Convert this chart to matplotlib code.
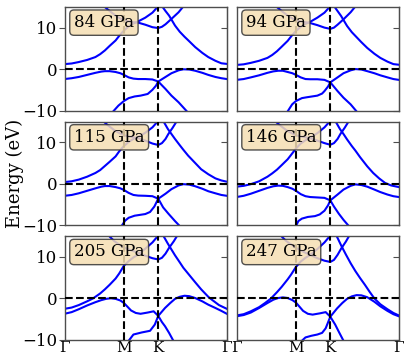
import numpy as np
import matplotlib
matplotlib.use("Agg")
import matplotlib.pyplot as plt

plt.rcParams["font.family"] = "serif"
plt.rcParams["font.serif"] = ["DejaVu Serif"]

# High-symmetry path Gamma-M-K-Gamma (path length units)
kpath_ticks = [0.0, 0.5, 0.789, 1.366]
kpath_labels = ["Γ", "M", "K", "Γ"]
pressures = [84, 94, 115, 146, 205, 247]

# Bands: (k, E) pairs, E in eV
c1_84 = [(0, 1.2), (.06, 1.35), (.12, 1.7), (.19, 2.2), (.26, 2.9), (.30, 3.6), (.34, 4.5), (.38, 5.6), (.43, 6.9), (.46, 8.0), (.5, 9.3), (.54, 10.3), (.58, 11.0), (.62, 11.5), (.68, 12.4), (.74, 13.6), (.79, 15.2)]
c2_84 = [(.33, 15.2), (.38, 14.0), (.43, 12.9), (.47, 12.2), (.5, 11.8), (.54, 11.5), (.58, 11.3), (.62, 11.2), (.68, 10.7), (.74, 10.1), (.789, 9.9), (.82, 10.2), (.85, 10.8), (.9, 12.1), (.96, 13.7), (1.0, 15.1)]
c3_84 = [(.82, 15.2), (.85, 14.0), (.88, 12.9), (.93, 10.5), (.97, 9.0), (1.01, 7.8), (1.05, 6.7), (1.1, 5.3), (1.16, 3.9), (1.21, 2.9), (1.27, 2.0), (1.32, 1.4), (1.366, 1.25)]
v1_84 = [(0, -2.4), (.06, -2.2), (.12, -1.9), (.19, -1.4), (.26, -0.9), (.31, -0.6), (.34, -0.5), (.38, -0.5), (.43, -0.7), (.47, -1.0), (.5, -1.4), (.54, -2.0), (.58, -2.3), (.62, -2.4), (.68, -2.4), (.74, -2.5), (.789, -3.0), (.85, -1.9), (.9, -1.0), (.96, -0.3), (1.0, -0.05), (1.05, -0.1), (1.1, -0.4), (1.16, -0.9), (1.21, -1.4), (1.27, -1.9), (1.32, -2.2), (1.366, -2.4)]
v2_84 = [(.41, -10.2), (.454, -8.8), (.5, -7.7), (.54, -7.0), (.59, -6.6), (.64, -6.4), (.7, -6.0), (.74, -5.0), (.77, -4.0), (.789, -3.0), (.85, -4.8), (.9, -6.4), (.96, -8.0), (1.03, -10.2)]

c1_94 = [(0, 1.0), (.06, 1.15), (.12, 1.5), (.19, 2.0), (.26, 2.7), (.30, 3.4), (.34, 4.3), (.38, 5.4), (.43, 6.8), (.46, 7.9), (.5, 9.2), (.54, 10.2), (.58, 10.9), (.62, 11.4), (.68, 12.4), (.74, 13.6), (.79, 15.2)]
c2_94 = [(.33, 15.2), (.38, 14.0), (.43, 12.9), (.47, 12.2), (.5, 11.8), (.54, 11.5), (.58, 11.3), (.62, 11.1), (.68, 10.6), (.74, 10.0), (.789, 9.7), (.82, 10.0), (.85, 10.7), (.9, 12.0), (.96, 13.7), (1.0, 15.1)]
c3_94 = [(.82, 15.2), (.85, 14.0), (.88, 12.8), (.93, 10.4), (.97, 8.9), (1.01, 7.7), (1.05, 6.5), (1.1, 5.1), (1.16, 3.7), (1.21, 2.7), (1.27, 1.8), (1.32, 1.2), (1.366, 1.05)]
v1_94 = [(0, -2.6), (.06, -2.4), (.12, -2.0), (.19, -1.5), (.26, -0.9), (.31, -0.55), (.35, -0.4), (.39, -0.4), (.43, -0.7), (.47, -1.0), (.5, -1.4), (.54, -2.0), (.58, -2.4), (.62, -2.45), (.68, -2.45), (.74, -2.6), (.789, -3.2), (.85, -2.0), (.9, -1.0), (.96, -0.3), (1.0, 0.0), (1.05, -0.1), (1.1, -0.5), (1.16, -1.0), (1.21, -1.5), (1.27, -2.0), (1.32, -2.4), (1.366, -2.6)]
v2_94 = [(.43, -10.2), (.468, -8.5), (.5, -7.7), (.55, -7.0), (.59, -6.8), (.68, -6.4), (.72, -5.9), (.74, -5.3), (.77, -4.2), (.789, -3.2), (.85, -5.3), (.9, -6.9), (.96, -8.5), (1.01, -10.2)]

c1_115 = [(0, 0.4), (.06, 0.6), (.12, 1.0), (.19, 1.7), (.26, 2.6), (.30, 3.3), (.34, 4.3), (.38, 5.3), (.43, 6.6), (.46, 7.8), (.5, 9.1), (.54, 10.1), (.58, 10.8), (.62, 11.3), (.68, 12.3), (.74, 13.6), (.79, 15.2)]
c2_115 = [(.32, 15.2), (.37, 14.0), (.42, 12.9), (.47, 12.1), (.5, 11.7), (.54, 11.4), (.58, 11.2), (.62, 11.0), (.68, 10.4), (.74, 9.7), (.789, 9.35), (.82, 9.8), (.85, 10.8), (.874, 12.0), (.91, 13.5), (.945, 15.1)]
c3_115 = [(.83, 15.2), (.87, 13.2), (.9, 12.0), (.93, 10.8), (.97, 9.3), (1.0, 8.2), (1.04, 6.8), (1.1, 5.0), (1.15, 3.5), (1.21, 2.3), (1.27, 1.3), (1.32, 0.8), (1.366, 0.5)]
v1_115 = [(0, -2.9), (.06, -2.7), (.12, -2.3), (.19, -1.7), (.26, -1.1), (.31, -0.7), (.34, -0.55), (.38, -0.55), (.43, -0.8), (.47, -1.1), (.5, -1.5), (.54, -2.2), (.58, -2.7), (.62, -2.85), (.68, -2.9), (.74, -3.0), (.789, -3.6), (.85, -2.4), (.9, -1.3), (.96, -0.4), (1.0, -0.1), (1.05, -0.2), (1.1, -0.6), (1.16, -1.2), (1.21, -1.8), (1.27, -2.3), (1.32, -2.7), (1.366, -2.9)]
v2_115 = [(.48, -10.2), (.51, -8.9), (.54, -8.2), (.59, -7.7), (.68, -7.3), (.72, -6.8), (.756, -5.5), (.789, -3.6), (.83, -5.7), (.874, -7.2), (.93, -9.0), (.97, -10.2)]

c1_146 = [(0, -0.7), (.06, -0.5), (.12, -0.1), (.19, 0.6), (.26, 1.7), (.30, 2.5), (.34, 3.4), (.38, 4.5), (.43, 5.9), (.46, 7.0), (.5, 8.5), (.54, 9.7), (.58, 10.5), (.62, 11.1), (.68, 12.2), (.74, 13.6), (.79, 15.2)]
c2_146 = [(.32, 15.2), (.37, 14.0), (.42, 12.9), (.47, 12.1), (.5, 11.7), (.54, 11.4), (.58, 11.2), (.62, 11.0), (.68, 10.4), (.74, 9.8), (.789, 9.4), (.82, 9.8), (.85, 10.8), (.874, 12.0), (.91, 13.5), (.945, 15.1)]
c3_146 = [(.83, 15.2), (.87, 13.2), (.9, 12.0), (.93, 10.7), (.97, 9.1), (1.0, 8.0), (1.04, 6.4), (1.1, 4.2), (1.15, 2.6), (1.2, 1.3), (1.25, 0.2), (1.3, -0.4), (1.366, -0.8)]
v1_146 = [(0, -3.2), (.06, -2.9), (.12, -2.4), (.19, -1.7), (.26, -1.0), (.31, -0.6), (.35, -0.45), (.39, -0.5), (.43, -0.8), (.47, -1.2), (.5, -1.7), (.54, -2.5), (.58, -3.0), (.62, -3.2), (.68, -3.3), (.74, -3.4), (.789, -4.0), (.85, -2.6), (.9, -1.4), (.96, -0.5), (1.0, -0.15), (1.05, -0.3), (1.1, -0.7), (1.16, -1.4), (1.21, -2.0), (1.27, -2.6), (1.32, -3.0), (1.366, -3.2)]
v2_146 = [(.5, -10.2), (.52, -9.0), (.55, -8.4), (.6, -8.0), (.66, -7.8), (.7, -7.4), (.74, -6.5), (.77, -5.2), (.789, -4.0), (.82, -5.5), (.86, -7.2), (.9, -8.7), (.945, -10.2)]

c1_205 = [(0, -2.5), (.06, -2.2), (.12, -1.6), (.19, -0.7), (.24, 0.0), (.3, 1.2), (.34, 2.2), (.38, 3.3), (.43, 4.8), (.46, 6.0), (.5, 7.9), (.54, 9.0), (.58, 9.9), (.62, 10.6), (.68, 12.0), (.74, 13.5), (.79, 15.2)]
c2_205 = [(.37, 15.2), (.42, 13.8), (.47, 12.8), (.5, 12.3), (.54, 11.8), (.58, 11.4), (.62, 11.0), (.68, 10.3), (.74, 9.7), (.789, 9.4), (.82, 9.8), (.85, 10.8), (.88, 12.2), (.92, 13.8), (.95, 15.2)]
c3_205 = [(.83, 15.2), (.87, 13.2), (.9, 11.8), (.93, 10.4), (.97, 8.7), (1.0, 7.4), (1.04, 6.0), (1.1, 3.9), (1.15, 2.2), (1.21, 0.4), (1.24, -0.3), (1.3, -1.6), (1.366, -2.5)]
v1_205 = [(0, -3.7), (.06, -3.3), (.12, -2.6), (.19, -1.7), (.26, -0.9), (.31, -0.4), (.35, -0.1), (.39, 0.05), (.43, -0.1), (.47, -0.5), (.5, -1.1), (.53, -2.0), (.56, -2.9), (.6, -3.5), (.64, -3.7), (.7, -3.4), (.75, -3.1), (.789, -4.2), (.846, -2.3), (.89, -1.1), (.93, -0.1), (.97, 0.4), (1.01, 0.65), (1.05, 0.55), (1.1, 0.1), (1.16, -0.7), (1.21, -1.5), (1.27, -2.3), (1.32, -3.0), (1.366, -3.7)]
v2_205 = [(.54, -10.2), (.58, -8.7), (.65, -8.2), (.72, -7.8), (.76, -6.3), (.789, -4.2), (.82, -5.7), (.846, -6.7), (.88, -8.3), (.916, -10.2)]

c1_247 = [(0, -4.1), (.06, -3.8), (.12, -3.1), (.19, -2.1), (.24, -1.1), (.29, 0.0), (.34, 1.5), (.38, 2.8), (.43, 4.6), (.46, 5.8), (.5, 7.6), (.54, 8.9), (.58, 9.8), (.62, 10.5), (.68, 11.9), (.74, 13.5), (.79, 15.2)]
c2_247 = [(.37, 15.2), (.42, 13.8), (.47, 12.8), (.5, 12.2), (.54, 11.6), (.58, 11.0), (.62, 10.5), (.68, 9.7), (.74, 9.1), (.789, 8.8), (.82, 9.3), (.85, 10.5), (.88, 12.0), (.92, 13.7), (.95, 15.2)]
c3_247 = [(.84, 15.2), (.88, 12.8), (.92, 10.6), (.96, 8.5), (1.0, 6.6), (1.04, 4.9), (1.08, 3.3), (1.12, 1.6), (1.16, 0.0), (1.21, -1.4), (1.27, -2.6), (1.32, -3.5), (1.366, -4.1)]
v1_247 = [(0, -4.3), (.06, -4.0), (.12, -3.4), (.19, -2.3), (.26, -1.1), (.31, -0.3), (.35, 0.1), (.39, 0.25), (.43, 0.1), (.47, -0.4), (.5, -1.0), (.53, -2.0), (.56, -3.0), (.6, -3.7), (.64, -3.9), (.7, -3.6), (.75, -3.3), (.789, -4.4), (.846, -2.4), (.89, -1.1), (.93, -0.1), (.97, 0.5), (1.01, 0.8), (1.05, 0.75), (1.1, 0.3), (1.16, -0.8), (1.21, -1.9), (1.27, -3.0), (1.32, -3.8), (1.366, -4.3)]
v2_247 = [(.55, -10.2), (.58, -9.4), (.63, -9.0), (.68, -8.7), (.72, -8.3), (.75, -7.2), (.789, -4.4), (.83, -6.3), (.86, -8.0), (.9, -10.2)]

bands = {
    84: [c1_84, c2_84, c3_84, v1_84, v2_84],
    94: [c1_94, c2_94, c3_94, v1_94, v2_94],
    115: [c1_115, c2_115, c3_115, v1_115, v2_115],
    146: [c1_146, c2_146, c3_146, v1_146, v2_146],
    205: [c1_205, c2_205, c3_205, v1_205, v2_205],
    247: [c1_247, c2_247, c3_247, v1_247, v2_247],
}

fig, axes = plt.subplots(3, 2, figsize=(4.07, 3.62), dpi=100)
fig.subplots_adjust(left=0.1585, right=0.980, top=0.981, bottom=0.061,
                    wspace=0.06, hspace=0.106)

for i, (ax, p) in enumerate(zip(axes.flat, pressures)):
    for band in bands[p]:
        band = np.array(band)
        ax.plot(band[:, 0], band[:, 1], c="blue", lw=1.5, zorder=2)

    ax.axhline(0, c="k", ls="--", lw=1.5, zorder=3)
    for xk in kpath_ticks[1:-1]:
        ax.axvline(xk, c="k", ls="--", lw=1.5, zorder=3)

    ax.set_xlim(kpath_ticks[0], kpath_ticks[-1])
    ax.set_ylim(-10, 15)

    ax.text(0.058, 0.93, f"{p} GPa", transform=ax.transAxes, va="top", ha="left",
            fontsize=12, zorder=5,
            bbox=dict(boxstyle="round,pad=0.25", facecolor="wheat",
                      edgecolor="0.2", alpha=0.85))

    for sp in ax.spines.values():
        sp.set_color("0.3")
        sp.set_linewidth(1.0)

    ax.set_xticks(kpath_ticks)
    if i >= 4:
        ax.set_xticklabels(kpath_labels, fontsize=11)
    else:
        ax.set_xticklabels([])
    ax.tick_params(axis="x", length=0, pad=1)

    ax.set_yticks([-10, 0, 10])
    if i % 2 == 0:
        ax.tick_params(axis="y", direction="out", length=4, labelsize=12, pad=1,
                       color="0.3")
    else:
        ax.tick_params(axis="y", left=False, labelleft=False)

    sec = ax.secondary_yaxis("right")
    sec.set_yticks([-10, 0, 10])
    sec.tick_params(direction="in", length=4, labelright=False, color="0.3")
    sec.spines["right"].set_color("0.3")

fig.text(0.037, 0.52, "Energy (eV)", rotation="vertical", va="center", ha="center",
         fontsize=13)

fig.savefig("out.png", dpi=100)
